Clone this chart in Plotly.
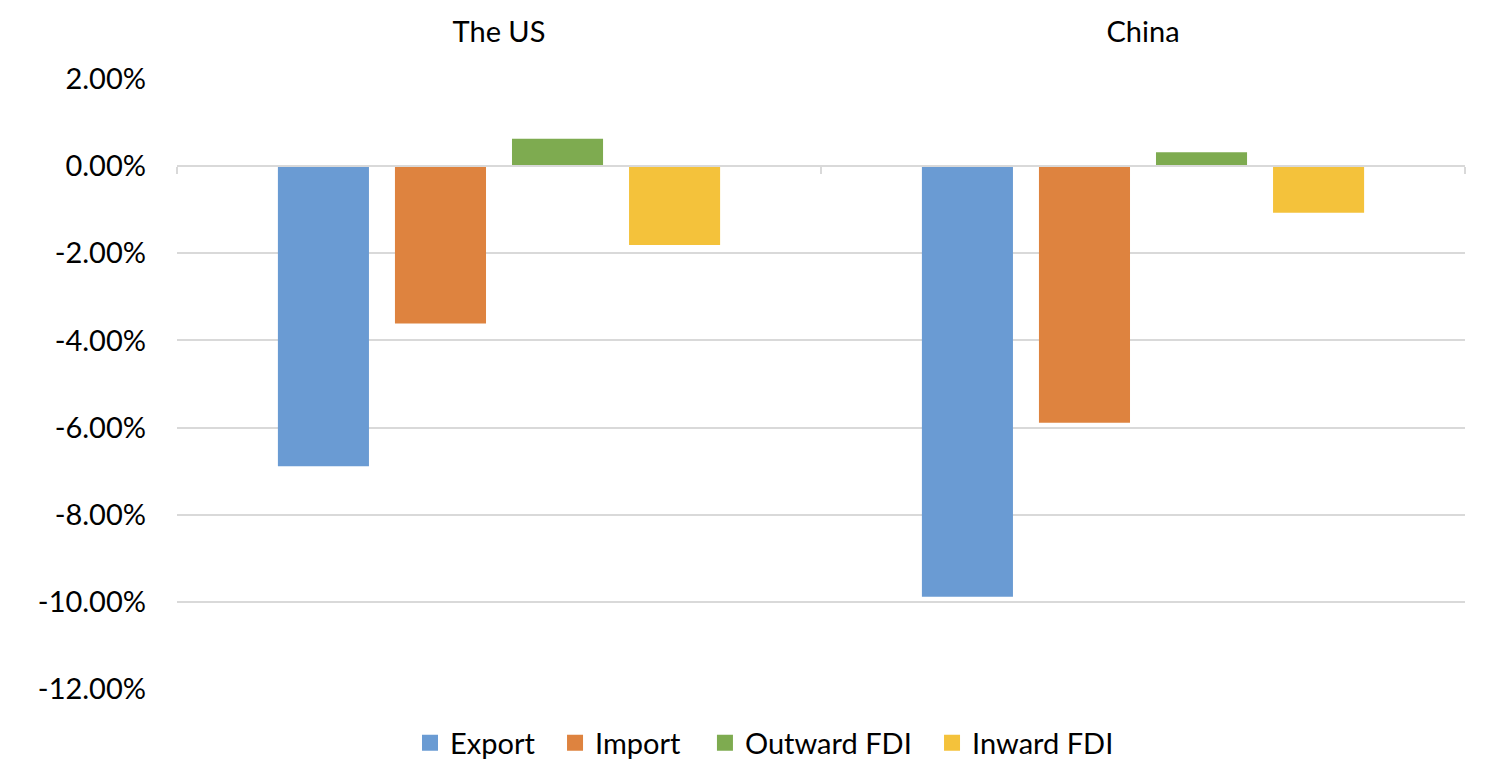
import plotly.graph_objects as go

categories = ["The US", "China"]
series_names = ["Export", "Import", "Outward FDI", "Inward FDI"]
export_vals = [-6.89, -9.88]
import_vals = [-3.61, -5.89]
outward_vals = [0.63, 0.32]
inward_vals = [-1.81, -1.07]
series_values = [export_vals, import_vals, outward_vals, inward_vals]
colors = ["#6A9BD3", "#DE833F", "#7EAB50", "#F4C23B"]

y_tickvals = [2, 0, -2, -4, -6, -8, -10, -12]
y_ticktext = ["2.00%", "0.00%", "-2.00%", "-4.00%", "-6.00%", "-8.00%", "-10.00%", "-12.00%"]
category_boundaries = [-0.5, 0.5, 1.5]

FONT = "Lato"
FS = 29
grid = "#D9D9D9"

legend_ids = ["legend", "legend2", "legend3", "legend4"]
legend_x = [0.1809, 0.2935, 0.4099, 0.5862]

fig = go.Figure()
for name, vals, col in zip(series_names, series_values, colors):
    fig.add_trace(go.Bar(x=categories, y=vals, name=name, showlegend=False,
                         marker=dict(color=col, line=dict(width=0))))
# legend proxies (no data points) to get larger square swatches
for name, col, lid in zip(series_names, colors, legend_ids):
    fig.add_trace(go.Scatter(x=[None], y=[None], mode="markers", name=name, legend=lid,
                             marker=dict(symbol="square", size=16, color=col),
                             showlegend=True, hoverinfo="skip"))
# empty trace to activate the category axis drawn at y = 0
fig.add_trace(go.Scatter(x=[None], y=[None], xaxis="x2", yaxis="y", mode="markers",
                         showlegend=False, hoverinfo="skip"))

legend_common = dict(orientation="h", xanchor="left", yanchor="middle", y=-0.0885,
                     font=dict(family=FONT, size=FS, color="#000000"),
                     bgcolor="rgba(0,0,0,0)", borderwidth=0)

fig.update_layout(
    width=1484, height=765,
    margin=dict(l=169, r=27, t=71, b=84, autoexpand=False),
    paper_bgcolor="white", plot_bgcolor="white",
    barmode="group", bargap=0.273, bargroupgap=0.222,
    font=dict(family=FONT, size=FS, color="#000000"),
    showlegend=True,
    xaxis=dict(side="top", showline=False, ticks="", showgrid=False, zeroline=False,
               ticklabelstandoff=30, tickfont=dict(family=FONT, size=FS)),
    xaxis2=dict(overlaying="x", anchor="free", position=12/14, range=[-0.5, 1.5],
                tickmode="array", tickvals=category_boundaries, showticklabels=False,
                ticks="outside", ticklen=7, tickwidth=2, tickcolor=grid,
                showline=True, linecolor=grid, linewidth=2, showgrid=False, zeroline=False,
                side="bottom", fixedrange=True),
    yaxis=dict(range=[-12, 2], tickmode="array", tickvals=y_tickvals, ticktext=y_ticktext,
               showgrid=True, gridcolor=grid, gridwidth=2, zeroline=False, showline=False,
               ticks="", ticklabelstandoff=30, tickfont=dict(family=FONT, size=FS)),
)
for lid, lx in zip(legend_ids, legend_x):
    fig.update_layout({lid: dict(legend_common, x=lx)})

fig.write_html("out.html")
